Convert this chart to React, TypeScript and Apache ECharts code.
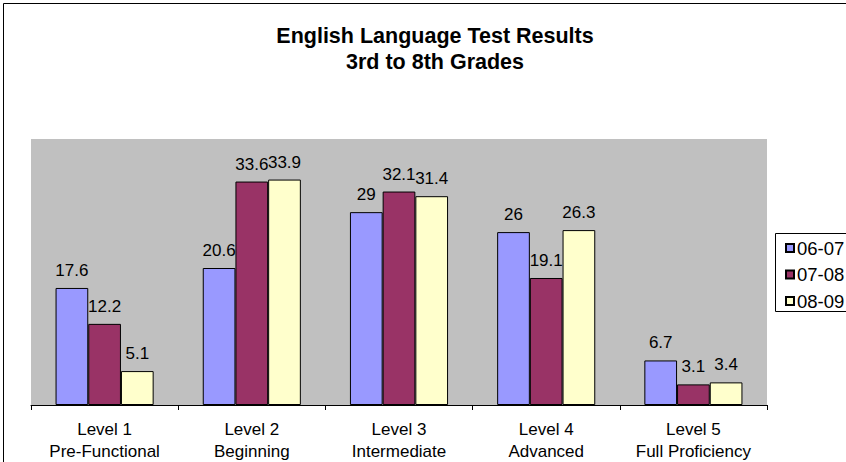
import React, { useEffect, useRef } from "react";
import * as echarts from "echarts";

const categories = [
  "Level 1\nPre-Functional",
  "Level 2\nBeginning",
  "Level 3\nIntermediate",
  "Level 4\nAdvanced",
  "Level 5\nFull Proficiency",
];
const seriesNames = ["06-07", "07-08", "08-09"];
const values0607 = [17.6, 20.6, 29, 26, 6.7];
const values0708 = [12.2, 33.6, 32.1, 19.1, 3.1];
const values0809 = [5.1, 33.9, 31.4, 26.3, 3.4];
const colors = ["#9999FF", "#993366", "#FFFFCC"];

const FONT = "Liberation Sans, Arial, sans-serif";

export default function App() {
  const ref = useRef<HTMLDivElement>(null);
  useEffect(() => {
    if (!ref.current) return;
    const chart = echarts.init(ref.current, undefined, { renderer: "svg" });
    const data = [values0607, values0708, values0809];
    chart.setOption({
      animation: false,
      backgroundColor: "#ffffff",
      title: {
        text: "English Language Test Results\n3rd to 8th Grades",
        left: 435,
        textAlign: "center",
        top: 22.5,
        padding: 0,
        textStyle: {
          fontFamily: FONT,
          fontWeight: "bold",
          fontSize: 21.5,
          lineHeight: 26,
          color: "#000",
        },
      },
      legend: {
        orient: "vertical",
        left: 785,
        top: 238.5,
        padding: 0,
        itemWidth: 8,
        itemHeight: 8,
        itemGap: 7.5,
        icon: "rect",
        textStyle: {
          fontFamily: FONT,
          fontSize: 18.5,
          lineHeight: 19,
          color: "#000",
          padding: [0, 0, 0, -2],
        },
        data: seriesNames,
      },
      grid: {
        left: 31,
        right: 79,
        top: 139,
        bottom: 57,
        show: true,
        backgroundColor: "#C0C0C0",
        borderWidth: 0,
      },
      xAxis: {
        type: "category",
        data: categories,
        axisLine: { lineStyle: { color: "#000", width: 1 } },
        axisTick: { show: true, length: 5, lineStyle: { color: "#000" } },
        axisLabel: {
          fontFamily: FONT,
          fontSize: 17,
          color: "#000",
          lineHeight: 22,
          margin: 13,
          interval: 0,
        },
      },
      yAxis: {
        type: "value",
        min: 0,
        max: 40,
        interval: 10,
        show: false,
        splitLine: { show: false },
      },
      graphic: [
        {
          type: "line",
          shape: { x1: 3.5, y1: 3.5, x2: 846, y2: 3.5 },
          style: { stroke: "#000", lineWidth: 1 },
        },
        {
          type: "line",
          shape: { x1: 3.5, y1: 3.5, x2: 3.5, y2: 462 },
          style: { stroke: "#000", lineWidth: 1 },
        },
        {
          type: "rect",
          shape: { x: 775.5, y: 233.5, width: 80, height: 78 },
          style: { fill: "none", stroke: "#000", lineWidth: 1 },
        },
      ],
      series: seriesNames.map((name, i) => ({
        name,
        type: "bar",
        data: data[i],
        barWidth: 32.7,
        barGap: "0%",
        itemStyle: { color: colors[i], borderColor: "#000", borderWidth: 1 },
        label: {
          show: true,
          position: "top",
          distance: 9,
          fontFamily: FONT,
          fontSize: 17,
          color: "#000",
        },
      })),
    });
    return () => chart.dispose();
  }, []);
  return (
    <div
      ref={ref}
      style={{ position: "fixed", left: 0, top: 0, width: 846, height: 462 }}
    />
  );
}
